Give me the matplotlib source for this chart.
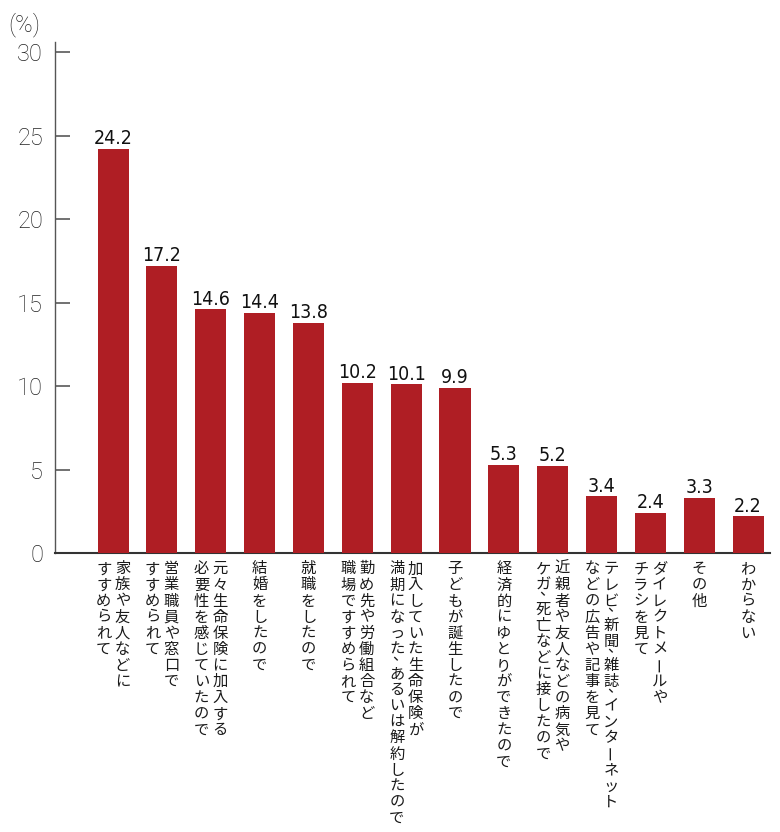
import matplotlib.pyplot as plt
import numpy as np

# reasons (each entry: vertical columns, first one is the rightmost)
categories = [
    ["家族や友人などに", "すすめられて"],
    ["営業職員や窓口で", "すすめられて"],
    ["元々生命保険に加入する", "必要性を感じていたので"],
    ["結婚をしたので"],
    ["就職をしたので"],
    ["勤め先や労働組合など", "職場ですすめられて"],
    ["加入していた生命保険が", "満期になった、あるいは解約したので"],
    ["子どもが誕生したので"],
    ["経済的にゆとりができたので"],
    ["近親者や友人などの病気や", "ケガ、死亡などに接したので"],
    ["テレビ、新聞、雑誌、インターネット", "などの広告や記事を見て"],
    ["ダイレクトメールや", "チラシを見て"],
    ["その他"],
    ["わからない"],
]
values = [24.2, 17.2, 14.6, 14.4, 13.8, 10.2, 10.1, 9.9, 5.3, 5.2, 3.4, 2.4, 3.3, 2.2]
yticks = [0, 5, 10, 15, 20, 25, 30]

BAR_COLOR = "#AF1E24"
JP_FONT = ["Noto Sans CJK JP", "DejaVu Sans"]

fig = plt.figure(figsize=(7.8, 8.32), dpi=100)
ax = fig.add_axes([0.0705, 0.3353, 0.9167, 0.6142])

x = np.arange(len(values))
ax.bar(x, values, width=0.635, color=BAR_COLOR, zorder=3)

ax.set_xlim(-1.19, 13.45)
ax.set_ylim(0, 30.6)
ax.set_xticks([])
ax.set_yticks(yticks)
ax.set_yticklabels([str(t) for t in yticks], family=["Roboto", "DejaVu Sans"],
                   fontweight="light")
ax.tick_params(axis="y", direction="in", length=11, width=1.3, color="#666666",
               pad=8.5, labelsize=17, labelcolor="#222222")

for side in ("top", "right"):
    ax.spines[side].set_visible(False)
ax.spines["left"].set_color("#555555")
ax.spines["left"].set_linewidth(1.0)
ax.spines["bottom"].set_color("#333333")
ax.spines["bottom"].set_linewidth(1.5)

# value labels
for xi, v in zip(x, values):
    ax.annotate(f"{v:.1f}", xy=(xi, v), xytext=(0, 0.5), textcoords="offset points",
                ha="center", va="bottom", fontsize=14, color="#111111",
                family=["DejaVu Sans"], fontstretch="condensed")

# vertical Japanese labels (tategaki), one glyph per cell
fs = 11
pitch = 11.6
col_gap = 13.5
for i, lines in enumerate(categories):
    n = len(lines)
    for j, line in enumerate(lines):
        dx = ((n - 1) / 2 - j) * col_gap
        pos = 0.0
        for ch in line:
            kw = dict(xy=(i, 0), textcoords="offset points", fontsize=fs,
                      color="#1a1a1a", family=JP_FONT, annotation_clip=False)
            if ch == "、":
                # comma: top-right corner of a half cell, just under the previous glyph
                prev_cy = -(10.4 + (pos - 1) * pitch)
                ax.annotate(ch, xytext=(dx + 2.5, prev_cy - 8.4), ha="center",
                            va="baseline", **kw)
                pos += 0.5
                continue
            cy = -(10.4 + pos * pitch)
            if ch == "ー":
                ax.annotate(ch, xytext=(dx, cy), ha="center", va="center",
                            rotation=90, **kw)
            else:
                ax.annotate(ch, xytext=(dx, cy - 0.38 * fs), ha="center",
                            va="baseline", **kw)
            pos += 1.0

fig.text(8 / 780, 1 - 37 / 832, "(%)", ha="left", va="bottom", fontsize=17,
         color="#222222", family=["Roboto", "DejaVu Sans"], fontweight="light")

fig.savefig("out.png", dpi=100)
